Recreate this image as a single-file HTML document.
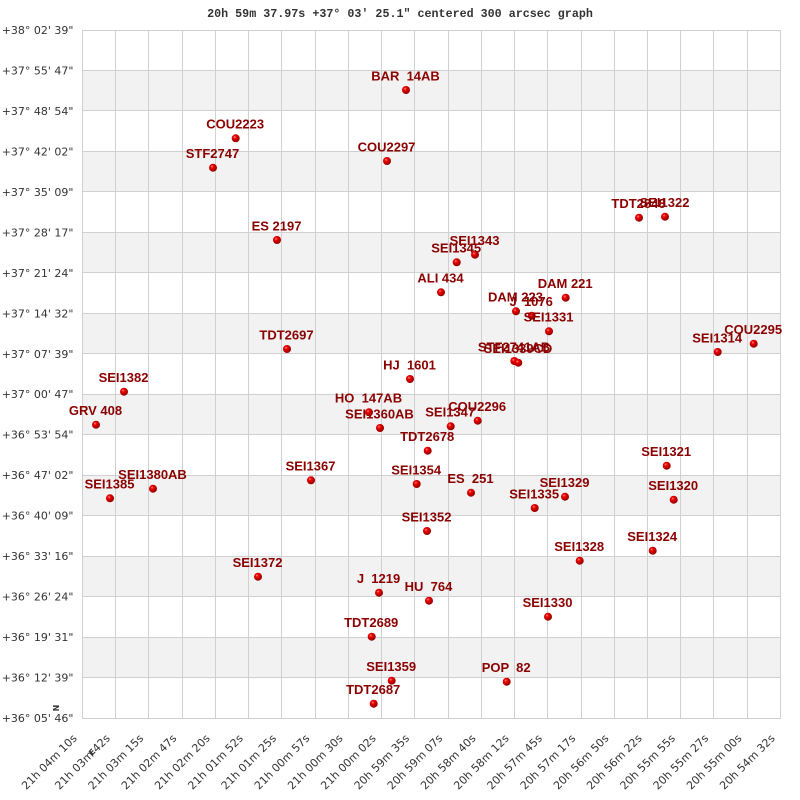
<!DOCTYPE html>
<html>
<head>
<meta charset="utf-8">
<style>
html,body{margin:0;padding:0;background:#fff;}
svg{display:block;}
.yl{font-family:"DejaVu Sans","Liberation Sans",sans-serif;font-size:11px;fill:#333;}
.xl{font-family:"DejaVu Sans","Liberation Sans",sans-serif;font-size:11px;fill:#333;}
.lb{font-family:"Liberation Sans",Arial,sans-serif;font-size:13px;font-weight:bold;fill:#8b0000;white-space:pre;}
.tt{font-family:"Liberation Mono","DejaVu Sans Mono",monospace;font-size:11.7px;font-weight:bold;fill:#333;white-space:pre;}
</style>
</head>
<body>
<svg width="800" height="800" viewBox="0 0 800 800" xmlns="http://www.w3.org/2000/svg">
<defs>
<radialGradient id="g" cx="38%" cy="35%" r="65%">
<stop offset="0%" stop-color="#ff9090"/>
<stop offset="30%" stop-color="#ee0000"/>
<stop offset="100%" stop-color="#900000"/>
</radialGradient>
</defs>
<rect x="0" y="0" width="800" height="800" fill="#fff"/>
<text class="tt" x="400" y="17" text-anchor="middle">20h 59m 37.97s +37° 03′ 25.1" centered 300 arcsec graph</text>

<!-- bands -->
<g fill="#f2f2f2">
<rect x="82" y="70.5" width="698" height="40.5"/>
<rect x="82" y="151.5" width="698" height="40.5"/>
<rect x="82" y="232.5" width="698" height="40.5"/>
<rect x="82" y="313.5" width="698" height="40.5"/>
<rect x="82" y="394.5" width="698" height="40.5"/>
<rect x="82" y="475.5" width="698" height="40.5"/>
<rect x="82" y="556.5" width="698" height="40.5"/>
<rect x="82" y="637.5" width="698" height="40.5"/>
</g>

<!-- grid -->
<g stroke="#d0d0d0" stroke-width="1" fill="none">
<line x1="82.5" y1="30" x2="82.5" y2="718.5"/>
<line x1="115.5" y1="30" x2="115.5" y2="718.5"/>
<line x1="148.5" y1="30" x2="148.5" y2="718.5"/>
<line x1="182.5" y1="30" x2="182.5" y2="718.5"/>
<line x1="215.5" y1="30" x2="215.5" y2="718.5"/>
<line x1="248.5" y1="30" x2="248.5" y2="718.5"/>
<line x1="281.5" y1="30" x2="281.5" y2="718.5"/>
<line x1="315.5" y1="30" x2="315.5" y2="718.5"/>
<line x1="348.5" y1="30" x2="348.5" y2="718.5"/>
<line x1="381.5" y1="30" x2="381.5" y2="718.5"/>
<line x1="414.5" y1="30" x2="414.5" y2="718.5"/>
<line x1="448.5" y1="30" x2="448.5" y2="718.5"/>
<line x1="481.5" y1="30" x2="481.5" y2="718.5"/>
<line x1="514.5" y1="30" x2="514.5" y2="718.5"/>
<line x1="547.5" y1="30" x2="547.5" y2="718.5"/>
<line x1="581.5" y1="30" x2="581.5" y2="718.5"/>
<line x1="614.5" y1="30" x2="614.5" y2="718.5"/>
<line x1="647.5" y1="30" x2="647.5" y2="718.5"/>
<line x1="680.5" y1="30" x2="680.5" y2="718.5"/>
<line x1="713.5" y1="30" x2="713.5" y2="718.5"/>
<line x1="747.5" y1="30" x2="747.5" y2="718.5"/>
<line x1="780.5" y1="30" x2="780.5" y2="718.5"/>

<line x1="82" y1="30.5" x2="781" y2="30.5"/>
<line x1="82" y1="70.5" x2="781" y2="70.5"/>
<line x1="82" y1="110.5" x2="781" y2="110.5"/>
<line x1="82" y1="151.5" x2="781" y2="151.5"/>
<line x1="82" y1="191.5" x2="781" y2="191.5"/>
<line x1="82" y1="232.5" x2="781" y2="232.5"/>
<line x1="82" y1="272.5" x2="781" y2="272.5"/>
<line x1="82" y1="313.5" x2="781" y2="313.5"/>
<line x1="82" y1="353.5" x2="781" y2="353.5"/>
<line x1="82" y1="394.5" x2="781" y2="394.5"/>
<line x1="82" y1="434.5" x2="781" y2="434.5"/>
<line x1="82" y1="475.5" x2="781" y2="475.5"/>
<line x1="82" y1="515.5" x2="781" y2="515.5"/>
<line x1="82" y1="556.5" x2="781" y2="556.5"/>
<line x1="82" y1="596.5" x2="781" y2="596.5"/>
<line x1="82" y1="637.5" x2="781" y2="637.5"/>
<line x1="82" y1="677.5" x2="781" y2="677.5"/>
<line x1="82" y1="718.5" x2="781" y2="718.5"/>
</g>

<!-- y labels -->
<g class="yl" text-anchor="end">
<text x="73.5" y="34">+38° 02' 39"</text>
<text x="73.5" y="74.5">+37° 55' 47"</text>
<text x="73.5" y="115">+37° 48' 54"</text>
<text x="73.5" y="155.4">+37° 42' 02"</text>
<text x="73.5" y="195.9">+37° 35' 09"</text>
<text x="73.5" y="236.4">+37° 28' 17"</text>
<text x="73.5" y="276.8">+37° 21' 24"</text>
<text x="73.5" y="317.3">+37° 14' 32"</text>
<text x="73.5" y="357.8">+37° 07' 39"</text>
<text x="73.5" y="398.2">+37° 00' 47"</text>
<text x="73.5" y="438.7">+36° 53' 54"</text>
<text x="73.5" y="479.2">+36° 47' 02"</text>
<text x="73.5" y="519.6">+36° 40' 09"</text>
<text x="73.5" y="560.1">+36° 33' 16"</text>
<text x="73.5" y="600.6">+36° 26' 24"</text>
<text x="73.5" y="641">+36° 19' 31"</text>
<text x="73.5" y="681.5">+36° 12' 39"</text>
<text x="73.5" y="722">+36° 05' 46"</text>
</g>

<!-- x labels -->
<g class="xl" text-anchor="end">
<text transform="translate(77.5,739) rotate(-45)">21h 04m 10s</text>
<text transform="translate(110.7,739) rotate(-45)">21h 03m 42s</text>
<text transform="translate(144,739) rotate(-45)">21h 03m 15s</text>
<text transform="translate(177.2,739) rotate(-45)">21h 02m 47s</text>
<text transform="translate(210.5,739) rotate(-45)">21h 02m 20s</text>
<text transform="translate(243.7,739) rotate(-45)">21h 01m 52s</text>
<text transform="translate(276.9,739) rotate(-45)">21h 01m 25s</text>
<text transform="translate(310.2,739) rotate(-45)">21h 00m 57s</text>
<text transform="translate(343.4,739) rotate(-45)">21h 00m 30s</text>
<text transform="translate(376.6,739) rotate(-45)">21h 00m 02s</text>
<text transform="translate(409.9,739) rotate(-45)">20h 59m 35s</text>
<text transform="translate(443.1,739) rotate(-45)">20h 59m 07s</text>
<text transform="translate(476.4,739) rotate(-45)">20h 58m 40s</text>
<text transform="translate(509.6,739) rotate(-45)">20h 58m 12s</text>
<text transform="translate(542.8,739) rotate(-45)">20h 57m 45s</text>
<text transform="translate(576.1,739) rotate(-45)">20h 57m 17s</text>
<text transform="translate(609.3,739) rotate(-45)">20h 56m 50s</text>
<text transform="translate(642.5,739) rotate(-45)">20h 56m 22s</text>
<text transform="translate(675.8,739) rotate(-45)">20h 55m 55s</text>
<text transform="translate(709,739) rotate(-45)">20h 55m 27s</text>
<text transform="translate(742.3,739) rotate(-45)">20h 55m 00s</text>
<text transform="translate(775.5,739) rotate(-45)">20h 54m 32s</text>
</g>

<!-- N / E markers -->
<text transform="translate(59,708) rotate(-90)" text-anchor="middle" style="font-family:'DejaVu Sans',sans-serif;font-size:8px;font-weight:bold;fill:#333;">N</text>
<text transform="translate(94,754) rotate(-45)" text-anchor="middle" style="font-family:'DejaVu Sans',sans-serif;font-size:8px;font-weight:bold;fill:#333;">E</text>

<!-- stars -->
<g>
<circle cx="406" cy="90" r="4" fill="url(#g)"/><text class="lb" x="405.5" y="80.3" text-anchor="middle">BAR  14AB</text>
<circle cx="235.7" cy="138.3" r="4" fill="url(#g)"/><text class="lb" x="235.2" y="128.6" text-anchor="middle">COU2223</text>
<circle cx="213" cy="167.7" r="4" fill="url(#g)"/><text class="lb" x="212.5" y="158" text-anchor="middle">STF2747</text>
<circle cx="387" cy="161" r="4" fill="url(#g)"/><text class="lb" x="386.5" y="151.3" text-anchor="middle">COU2297</text>
<circle cx="639" cy="217.7" r="4" fill="url(#g)"/><text class="lb" x="638.5" y="208" text-anchor="middle">TDT2848</text>
<circle cx="665" cy="216.7" r="4" fill="url(#g)"/><text class="lb" x="664.5" y="207" text-anchor="middle">SEI1322</text>
<circle cx="277" cy="240" r="4" fill="url(#g)"/><text class="lb" x="276.5" y="230.3" text-anchor="middle">ES 2197</text>
<circle cx="475" cy="254.7" r="4" fill="url(#g)"/><text class="lb" x="474.5" y="245" text-anchor="middle">SEI1343</text>
<circle cx="456.7" cy="262.3" r="4" fill="url(#g)"/><text class="lb" x="456.2" y="252.6" text-anchor="middle">SEI1345</text>
<circle cx="441" cy="292.3" r="4" fill="url(#g)"/><text class="lb" x="440.5" y="282.6" text-anchor="middle">ALI 434</text>
<circle cx="565.7" cy="297.7" r="4" fill="url(#g)"/><text class="lb" x="565.2" y="288" text-anchor="middle">DAM 221</text>
<circle cx="516" cy="311.3" r="4" fill="url(#g)"/><text class="lb" x="515.5" y="301.6" text-anchor="middle">DAM 223</text>
<circle cx="531.7" cy="315.7" r="4" fill="url(#g)"/><text class="lb" x="531.2" y="306" text-anchor="middle">J  1076</text>
<circle cx="549" cy="331.3" r="4" fill="url(#g)"/><text class="lb" x="548.5" y="321.6" text-anchor="middle">SEI1331</text>
<circle cx="287" cy="349" r="4" fill="url(#g)"/><text class="lb" x="286.5" y="339.3" text-anchor="middle">TDT2697</text>
<circle cx="717.7" cy="352" r="4" fill="url(#g)"/><text class="lb" x="717.2" y="342.3" text-anchor="middle">SEI1314</text>
<circle cx="753.7" cy="343.7" r="4" fill="url(#g)"/><text class="lb" x="753.2" y="334" text-anchor="middle">COU2295</text>
<circle cx="514.3" cy="361" r="4" fill="url(#g)"/><text class="lb" x="514" y="351.3" text-anchor="middle">STF2741AB</text>
<circle cx="518.3" cy="362.7" r="4" fill="url(#g)"/><text class="lb" x="518" y="353" text-anchor="middle">SEI1339CD</text>
<circle cx="410" cy="379" r="4" fill="url(#g)"/><text class="lb" x="409.5" y="369.3" text-anchor="middle">HJ  1601</text>
<circle cx="124" cy="391.7" r="4" fill="url(#g)"/><text class="lb" x="123.5" y="382" text-anchor="middle">SEI1382</text>
<circle cx="96" cy="424.7" r="4" fill="url(#g)"/><text class="lb" x="95.5" y="415" text-anchor="middle">GRV 408</text>
<circle cx="380" cy="428" r="4" fill="url(#g)"/><text class="lb" x="379.5" y="418.3" text-anchor="middle">SEI1360AB</text>
<circle cx="369" cy="412.3" r="4" fill="url(#g)"/><text class="lb" x="368.5" y="402.6" text-anchor="middle">HO  147AB</text>
<circle cx="450.7" cy="426.3" r="4" fill="url(#g)"/><text class="lb" x="450.2" y="416.6" text-anchor="middle">SEI1347</text>
<circle cx="477.7" cy="420.7" r="4" fill="url(#g)"/><text class="lb" x="477.2" y="411" text-anchor="middle">COU2296</text>
<circle cx="427.7" cy="450.7" r="4" fill="url(#g)"/><text class="lb" x="427.2" y="441" text-anchor="middle">TDT2678</text>
<circle cx="311" cy="480.3" r="4" fill="url(#g)"/><text class="lb" x="310.5" y="470.6" text-anchor="middle">SEI1367</text>
<circle cx="416.7" cy="484" r="4" fill="url(#g)"/><text class="lb" x="416.2" y="474.3" text-anchor="middle">SEI1354</text>
<circle cx="471" cy="492.7" r="4" fill="url(#g)"/><text class="lb" x="470.5" y="483" text-anchor="middle">ES  251</text>
<circle cx="153" cy="488.7" r="4" fill="url(#g)"/><text class="lb" x="152.5" y="479" text-anchor="middle">SEI1380AB</text>
<circle cx="110" cy="498.3" r="4" fill="url(#g)"/><text class="lb" x="109.5" y="488.6" text-anchor="middle">SEI1385</text>
<circle cx="666.7" cy="465.7" r="4" fill="url(#g)"/><text class="lb" x="666.2" y="456" text-anchor="middle">SEI1321</text>
<circle cx="565" cy="496.7" r="4" fill="url(#g)"/><text class="lb" x="564.5" y="487" text-anchor="middle">SEI1329</text>
<circle cx="673.7" cy="499.7" r="4" fill="url(#g)"/><text class="lb" x="673.2" y="490" text-anchor="middle">SEI1320</text>
<circle cx="534.7" cy="508" r="4" fill="url(#g)"/><text class="lb" x="534.2" y="498.3" text-anchor="middle">SEI1335</text>
<circle cx="427" cy="531" r="4" fill="url(#g)"/><text class="lb" x="426.5" y="521.3" text-anchor="middle">SEI1352</text>
<circle cx="579.7" cy="560.7" r="4" fill="url(#g)"/><text class="lb" x="579.2" y="551" text-anchor="middle">SEI1328</text>
<circle cx="652.7" cy="550.7" r="4" fill="url(#g)"/><text class="lb" x="652.2" y="541" text-anchor="middle">SEI1324</text>
<circle cx="258" cy="576.7" r="4" fill="url(#g)"/><text class="lb" x="257.5" y="567" text-anchor="middle">SEI1372</text>
<circle cx="379" cy="592.7" r="4" fill="url(#g)"/><text class="lb" x="378.5" y="583" text-anchor="middle">J  1219</text>
<circle cx="429" cy="600.7" r="4" fill="url(#g)"/><text class="lb" x="428.5" y="591" text-anchor="middle">HU  764</text>
<circle cx="548" cy="616.7" r="4" fill="url(#g)"/><text class="lb" x="547.5" y="607" text-anchor="middle">SEI1330</text>
<circle cx="371.7" cy="636.7" r="4" fill="url(#g)"/><text class="lb" x="371.2" y="627" text-anchor="middle">TDT2689</text>
<circle cx="391.7" cy="680.7" r="4" fill="url(#g)"/><text class="lb" x="391.2" y="671" text-anchor="middle">SEI1359</text>
<circle cx="506.7" cy="681.7" r="4" fill="url(#g)"/><text class="lb" x="506.2" y="672" text-anchor="middle">POP  82</text>
<circle cx="373.7" cy="703.7" r="4" fill="url(#g)"/><text class="lb" x="373.2" y="694" text-anchor="middle">TDT2687</text>
</g>
</svg>
</body>
</html>
